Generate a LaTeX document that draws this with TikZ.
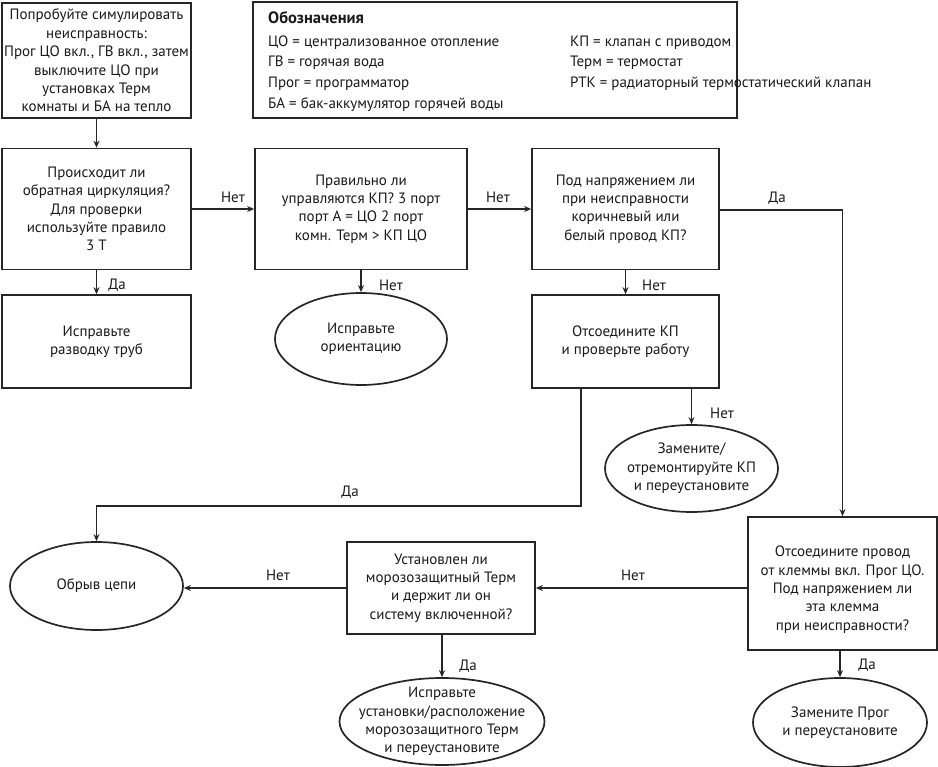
\documentclass[tikz,border=0pt]{standalone}
\usepackage{fontspec}
\setmainfont{PT Sans}
\usetikzlibrary{shapes.geometric,arrows.meta}
\begin{document}
\begin{tikzpicture}[x=1pt,y=-1pt,
  every node/.style={font=\fontsize{15}{18.4}\selectfont, text=black!90},
  box/.style={draw=black!85, line width=1.7pt, align=center, inner sep=0pt},
  oval/.style={draw=black!85, line width=1.7pt, ellipse, align=center, inner sep=-20pt},
  arr/.style={draw=black!85, line width=1.3pt, -{Stealth[length=7pt,width=6pt]}},
  lbl/.style={inner sep=0pt}]
\useasboundingbox (0,0) rectangle (938,767);
% top-left box
\node[box, minimum width=189pt, minimum height=115pt] (b1) at (96.5,60.5) {Попробуйте симулировать\\неисправность:\\Прог ЦО вкл., ГВ вкл., затем\\выключите ЦО при\\установках Терм\\комнаты и БА на тепло};
% legend
\node[draw=black!85, line width=1.5pt, minimum width=484pt, minimum height=116pt, inner sep=0pt] (leg) at (495,60) {};
\node[lbl, anchor=west, font=\fontsize{16.5}{18}\selectfont\bfseries] (lt) at (268,18) {Обозначения};
\node[lbl, anchor=west] (l1) at (268,43) {ЦО = централизованное отопление};
\node[lbl, anchor=west] (l2) at (268,63) {ГВ = горячая вода};
\node[lbl, anchor=west] (l3) at (268,84) {Прог = программатор};
\node[lbl, anchor=west] (l4) at (268,105) {БА = бак-аккумулятор горячей воды};
\node[lbl, anchor=west] (r1) at (570,43) {КП = клапан с приводом};
\node[lbl, anchor=west] (r2) at (570,63) {Терм = термостат};
\node[lbl, anchor=west] (r3) at (570,84) {РТК = радиаторный термостатический клапан};
% row 2
\node[box, minimum width=189pt, minimum height=121pt] (q1) at (96.5,209) {Происходит ли\\обратная циркуляция?\\Для проверки\\используйте правило\\3 Т};
\node[box, minimum width=212pt, minimum height=121pt] (q2) at (361,209) {Правильно ли\\управляются КП? 3 порт\\порт А = ЦО 2 порт\\комн. Терм > КП ЦО};
\node[box, minimum width=187pt, minimum height=121pt] (q3) at (625.5,209) {Под напряжением ли\\при неисправности\\коричневый или\\белый провод КП?};
% row 3
\node[box, minimum width=189pt, minimum height=93pt] (f1) at (96.5,341.5) {Исправьте\\разводку труб};
\node[oval, minimum width=172pt, minimum height=92pt] (e1) at (361,339) {Исправьте\\ориентацию};
\node[box, minimum width=187pt, minimum height=93pt] (q4) at (625.5,341.5) {Отсоедините КП\\и проверьте работу};
\node[oval, minimum width=173pt, minimum height=87pt] (e2) at (691.5,468.5) {Замените/\\отремонтируйте КП\\и переустановите};
% lower
\node[box, minimum width=189pt, minimum height=133pt] (q5) at (842.5,583.5) {\rule{0pt}{23pt}Отсоедините провод\\от клеммы вкл. Прог ЦО.\\Под напряжением ли\\эта клемма\\при неисправности?};
\node[box, minimum width=188pt, minimum height=92pt] (q6) at (441,588) {Установлен ли\\морозозащитный Терм\\и держит ли он\\систему включенной?};
\node[oval, minimum width=173pt, minimum height=88pt] (e3) at (96.5,586) {Обрыв цепи};
\node[oval, minimum width=205pt, minimum height=87pt] (e4) at (442,721.5) {Исправьте\\установки/расположение\\морозозащитного Терм\\и переустановите};
\node[oval, minimum width=174pt, minimum height=89pt] (e5) at (840,722.5) {Замените Прог\\и переустановите};
% connectors
\draw[arr] (b1) -- (q1);
\draw[arr] (q1.east) -- (q2.west);
\node[lbl] (n1) at (233,197) {Нет};
\draw[arr] (q2.east) -- (q3.west);
\node[lbl] (n2) at (498,197) {Нет};
\draw[arr] (q1) -- (f1);
\node[lbl] (d1) at (117,285) {Да};
\draw[arr] (q2) -- (e1);
\node[lbl] (n3) at (391,285) {Нет};
\draw[arr] (q3) -- (q4);
\node[lbl] (n4) at (654,285) {Нет};
\coordinate (c0) at (842.5,210);
\draw[arr] (q3.east |- c0) -- (c0) -- (q5.north);
\node[lbl] (d2) at (777,198) {Да};
\draw[arr] (q4.south -| e2.north) -- (e2.north);
\node[lbl] (n5) at (722,413) {Нет};
\coordinate (c1) at (581,506);
\draw[arr] (q4.south -| c1) -- (c1) -| (e3.north);
\node[lbl] (d3) at (350,492) {Да};
\coordinate (c2) at (748,588);
\draw[arr] (q5.west |- c2) -- (q6.east |- c2);
\node[lbl] (n6) at (633,575) {Нет};
\draw[arr] (q6.west) -- (e3.east |- q6.west);
\node[lbl] (n7) at (278,575) {Нет};
\draw[arr] (q6.south -| e4.north) -- (e4.north);
\node[lbl] (d4) at (468,666) {Да};
\draw[arr] (q5.south -| e5.north) -- (e5.north);
\node[lbl] (d5) at (867,665) {Да};
\end{tikzpicture}
\end{document}
